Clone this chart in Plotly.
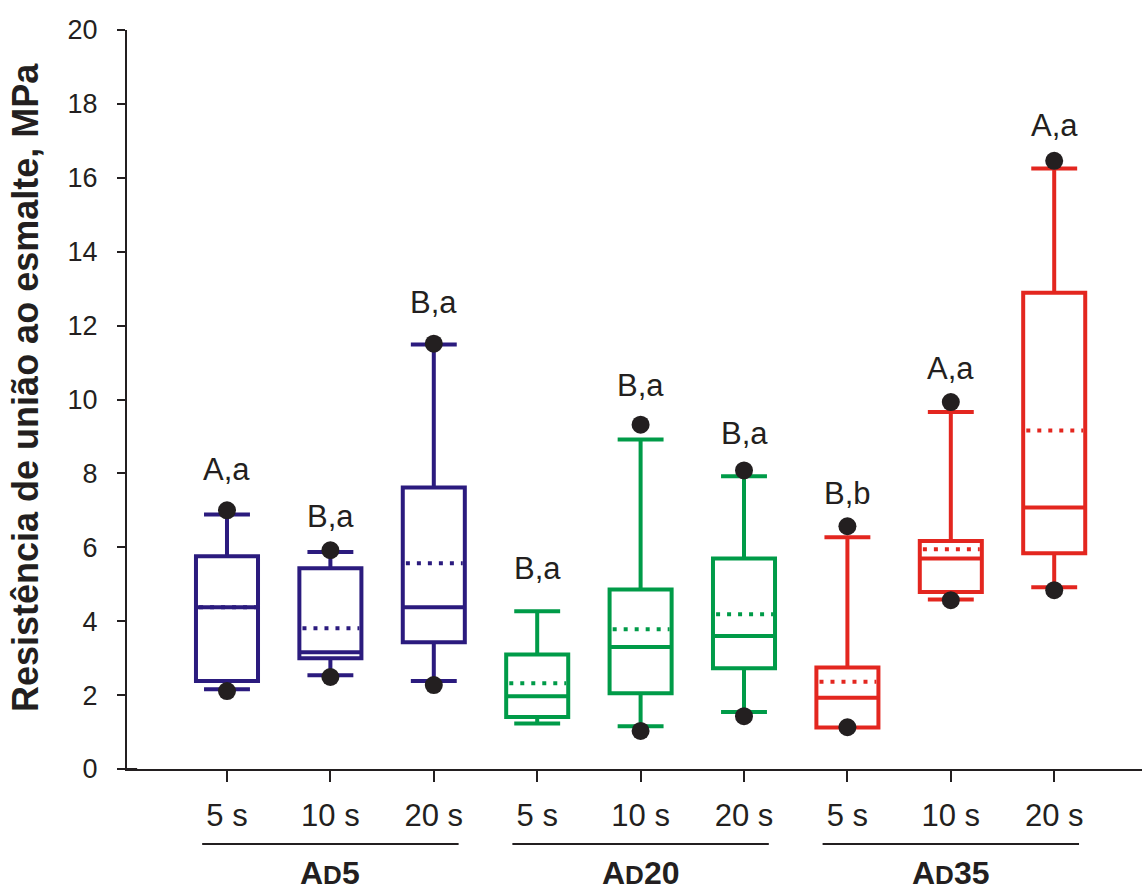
import plotly.graph_objects as go

# ---- data ----
groups = ["AD5", "AD20", "AD35"]
times = ["5 s", "10 s", "20 s"]
positions = [1, 2, 3, 4, 5, 6, 7, 8, 9]

q1 = [2.38, 3.00, 3.43, 1.41, 2.05, 2.73, 1.12, 4.79, 5.84]
median = [4.38, 3.16, 4.38, 1.97, 3.30, 3.60, 1.93, 5.70, 7.08]
q3 = [5.76, 5.43, 7.62, 3.10, 4.86, 5.70, 2.75, 6.17, 12.89]
lower_whisker = [2.16, 2.54, 2.38, 1.23, 1.16, 1.54, 1.13, 4.59, 4.92]
upper_whisker = [6.89, 5.87, 11.49, 4.27, 8.92, 7.92, 6.27, 9.66, 16.25]
means = [4.38, 3.81, 5.57, 2.32, 3.78, 4.19, 2.36, 5.95, 9.16]

# outlier dots (5th / 95th percentile points); None = not shown
dot_low = [2.11, 2.49, 2.27, None, 1.03, 1.43, 1.13, 4.57, 4.84]
dot_high = [7.00, 5.92, 11.51, None, 9.32, 8.08, 6.57, 9.93, 16.46]

letters = ["A,a", "B,a", "B,a", "B,a", "B,a", "B,a", "B,b", "A,a", "A,a"]
letter_y = [8.11, 6.84, 12.62, 5.43, 10.38, 9.08, 7.46, 10.84, 17.41]

colors = ["#2b1b7e", "#009b48", "#e3261f"]
ink = "#231f20"
FONT = "Arial, Liberation Sans, sans-serif"

BOX_W = 0.6

fig = go.Figure()

# dots (behind boxes)
dx, dy = [], []
for p, lo, hi in zip(positions, dot_low, dot_high):
    for v in (lo, hi):
        if v is not None:
            dx.append(p)
            dy.append(v)
fig.add_trace(go.Scatter(x=dx, y=dy, mode="markers",
                         marker=dict(color=ink, size=18, line=dict(width=0)),
                         showlegend=False, hoverinfo="skip"))

# boxes
for g in range(3):
    sl = slice(3 * g, 3 * g + 3)
    fig.add_trace(go.Box(
        x=positions[sl], q1=q1[sl], median=median[sl], q3=q3[sl],
        lowerfence=lower_whisker[sl], upperfence=upper_whisker[sl],
        width=BOX_W, whiskerwidth=0.74, boxpoints=False,
        line=dict(color=colors[g], width=4),
        fillcolor="rgba(0,0,0,0)", showlegend=False, hoverinfo="skip"))

# mean dotted lines
for g in range(3):
    mx, my = [], []
    for i in range(3 * g, 3 * g + 3):
        mx += [positions[i] - BOX_W / 2 + 0.03, positions[i] + BOX_W / 2 - 0.02, None]
        my += [means[i], means[i], None]
    fig.add_trace(go.Scatter(x=mx, y=my, mode="lines",
                             line=dict(color=colors[g], width=4, dash="4px,7px"),
                             showlegend=False, hoverinfo="skip"))

annotations = []
for p, t, y in zip(positions, letters, letter_y):
    annotations.append(dict(x=p, y=y, text=t, showarrow=False, xref="x", yref="y",
                            font=dict(family=FONT, size=31, color=ink),
                            xanchor="center", yanchor="middle"))

shapes = []
PLOT_TOP, PLOT_BOTTOM = 30, 769
ph = PLOT_BOTTOM - PLOT_TOP
for g, name in enumerate(groups):
    first = positions[3 * g]
    last = positions[3 * g + 2]
    shapes.append(dict(type="line", xref="x", yref="paper",
                       x0=first - 0.24, x1=last + 0.24,
                       y0=(PLOT_BOTTOM - 844) / ph, y1=(PLOT_BOTTOM - 844) / ph,
                       line=dict(color=ink, width=2)))
    label = f"<b>{name[0]}<span style='font-size:26px'>{name[1]}</span>{name[2:]}</b>"
    annotations.append(dict(x=positions[3 * g + 1], y=(PLOT_BOTTOM - 873) / ph,
                            xref="x", yref="paper", text=label, showarrow=False,
                            font=dict(family=FONT, size=32, color=ink),
                            xanchor="center", yanchor="middle"))

# y-axis title
annotations.append(dict(x=0, y=(PLOT_BOTTOM - 388) / ph, xref="paper", yref="paper",
                        xshift=-101, text="<b>Resistência de união ao esmalte, MPa</b>",
                        textangle=-90, showarrow=False,
                        font=dict(family=FONT, size=36, color=ink),
                        xanchor="center", yanchor="middle"))

# small extension of x axis line to the left
shapes.append(dict(type="line", xref="paper", yref="paper", x0=-0.007, x1=0.01,
                   y0=0, y1=0, line=dict(color=ink, width=2)))

fig.update_layout(
    width=1142, height=891,
    margin=dict(l=127, r=0, t=PLOT_TOP, b=891 - PLOT_BOTTOM),
    plot_bgcolor="white", paper_bgcolor="white",
    annotations=annotations, shapes=shapes,
    xaxis=dict(range=[0.033, 9.849], tickmode="array", tickvals=positions,
               ticktext=times * 3, showgrid=False, zeroline=False,
               showline=True, linecolor=ink, linewidth=2,
               ticks="outside", ticklen=11, tickwidth=2, tickcolor=ink,
               tickfont=dict(family=FONT, size=31, color=ink),
               ticklabelstandoff=7),
    yaxis=dict(range=[0, 20], tickmode="array", tickvals=list(range(0, 21, 2)),
               showgrid=False, zeroline=False, showline=True, linecolor=ink,
               linewidth=2, ticks="outside", ticklen=8, tickwidth=2, tickcolor=ink,
               tickfont=dict(family=FONT, size=27, color=ink),
               ticklabelstandoff=14),
    font=dict(family=FONT, color=ink),
)

fig.write_html("out.html", config={"displayModeBar": False},
               post_script="document.body.style.margin='0';document.body.style.padding='0';")
